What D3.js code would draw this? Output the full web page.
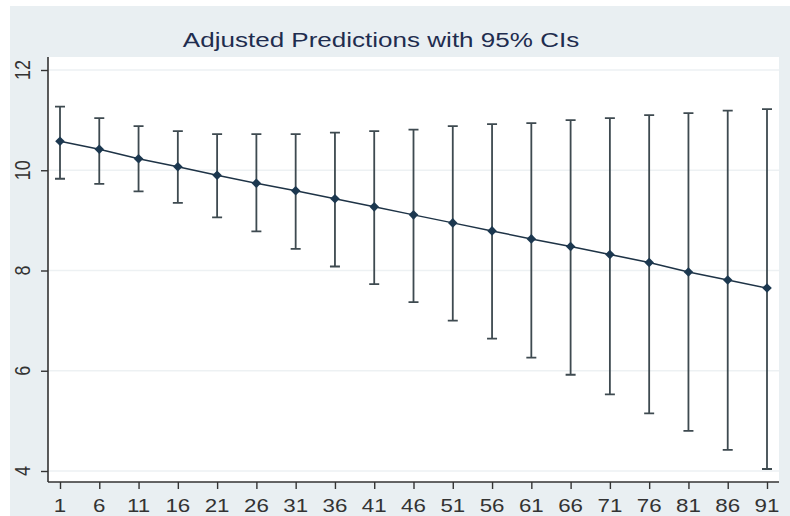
<!DOCTYPE html>
<html>
<head>
<meta charset="utf-8">
<script src="https://cdn.jsdelivr.net/npm/d3@7"></script>
<style>
  html, body { margin: 0; padding: 0; background: #ffffff; }
  svg { display: block; }
  text { font-family: "Liberation Sans", Arial, sans-serif; }
</style>
</head>
<body>
<svg id="chart" width="790" height="516"></svg>
<script>
// ---- data ----
const categories = [1, 6, 11, 16, 21, 26, 31, 36, 41, 46, 51, 56, 61, 66, 71, 76, 81, 86, 91];
const predicted  = [10.58, 10.42, 10.23, 10.07, 9.90, 9.74, 9.59, 9.43, 9.27, 9.11, 8.95, 8.79, 8.63, 8.48, 8.32, 8.16, 7.97, 7.81, 7.65];
const upperCI    = [11.27, 11.04, 10.88, 10.78, 10.72, 10.72, 10.72, 10.75, 10.78, 10.81, 10.88, 10.92, 10.94, 11.00, 11.04, 11.10, 11.14, 11.19, 11.22];
const lowerCI    = [9.83, 9.73, 9.58, 9.35, 9.06, 8.78, 8.43, 8.08, 7.73, 7.37, 7.00, 6.64, 6.26, 5.92, 5.53, 5.15, 4.80, 4.42, 4.04];
const yTicks     = [4, 6, 8, 10, 12];
const title      = "Adjusted Predictions with 95% CIs";

// ---- layout ----
const W = 790, H = 516;
const plot = { left: 48, right: 779, top: 57, bottom: 482 };
const stretch = 1.24; // horizontal text stretch seen in the reference

const svg = d3.select("#chart");

// outer graph region
svg.append("rect").attr("x", 10).attr("y", 6).attr("width", W - 10).attr("height", H - 6)
  .attr("fill", "#e9eff2");
// plot region
svg.append("rect").attr("x", plot.left).attr("y", plot.top)
  .attr("width", plot.right - plot.left).attr("height", plot.bottom - plot.top)
  .attr("fill", "#ffffff");

const x = d3.scaleLinear().domain([1, 91]).range([60, 767]);
const y = d3.scaleLinear().domain([4, 12]).range([471, 70]);

// gridlines
svg.append("g").selectAll("line").data(yTicks).join("line")
  .attr("x1", plot.left + 1).attr("x2", plot.right)
  .attr("y1", d => y(d)).attr("y2", d => y(d))
  .attr("stroke", "#edf1f3").attr("stroke-width", 1.5);

// y axis
const yAxis = svg.append("g").attr("transform", `translate(${plot.left},0)`)
  .call(d3.axisLeft(y).tickValues(yTicks).tickSize(7).tickFormat(d3.format("d")));
yAxis.select(".domain").attr("d", `M0,${plot.top}V${plot.bottom}`)
  .attr("stroke", "#333").attr("stroke-width", 1.6);
yAxis.selectAll(".tick line").attr("stroke", "#333").attr("stroke-width", 1.4);
yAxis.selectAll(".tick text").remove();
svg.append("g").selectAll("text").data(yTicks).join("text")
  .attr("transform", d => `translate(30,${y(d)}) scale(${stretch},1) rotate(-90)`)
  .attr("text-anchor", "middle")
  .attr("font-size", 18)
  .attr("fill", "#333")
  .text(d => d);

// x axis
const xAxis = svg.append("g").attr("transform", `translate(0,${plot.bottom})`)
  .call(d3.axisBottom(x).tickValues(categories).tickSize(7).tickFormat(d3.format("d")));
xAxis.select(".domain").attr("d", `M${plot.left},0H${plot.right}`)
  .attr("stroke", "#333").attr("stroke-width", 1.6);
xAxis.selectAll(".tick line").attr("stroke", "#333").attr("stroke-width", 1.4);
xAxis.selectAll(".tick text").remove();
svg.append("g").selectAll("text").data(categories).join("text")
  .attr("transform", d => `translate(${x(d)},512) scale(${stretch},1)`)
  .attr("text-anchor", "middle")
  .attr("font-size", 18)
  .attr("fill", "#333")
  .text(d => d);

// title
svg.append("text")
  .attr("transform", `translate(381,47) scale(${stretch},1)`)
  .attr("text-anchor", "middle")
  .attr("font-size", 21)
  .attr("fill", "#1f2d4f")
  .text(title);

// CI bars (rcap)
const rows = categories.map((c, i) => ({ c, p: predicted[i], lo: lowerCI[i], hi: upperCI[i] }));
const cap = 5;
const ci = svg.append("g").attr("stroke", "#3e4a50").attr("stroke-width", 1.8).attr("fill", "none");
ci.selectAll("path").data(rows).join("path")
  .attr("d", d => `M${x(d.c)},${y(d.lo)}V${y(d.hi)}` +
                  `M${x(d.c) - cap},${y(d.hi)}H${x(d.c) + cap}` +
                  `M${x(d.c) - cap},${y(d.lo)}H${x(d.c) + cap}`);

// connecting line
svg.append("path").datum(rows)
  .attr("fill", "none").attr("stroke", "#1e3346").attr("stroke-width", 1.5)
  .attr("d", d3.line().x(d => x(d.c)).y(d => y(d.p)));

// diamond markers
const r = 4.8;
svg.append("g").selectAll("path").data(rows).join("path")
  .attr("d", d => `M${x(d.c)},${y(d.p) - r}L${x(d.c) + r},${y(d.p)}L${x(d.c)},${y(d.p) + r}L${x(d.c) - r},${y(d.p)}Z`)
  .attr("fill", "#1c3850");
</script>
</body>
</html>
